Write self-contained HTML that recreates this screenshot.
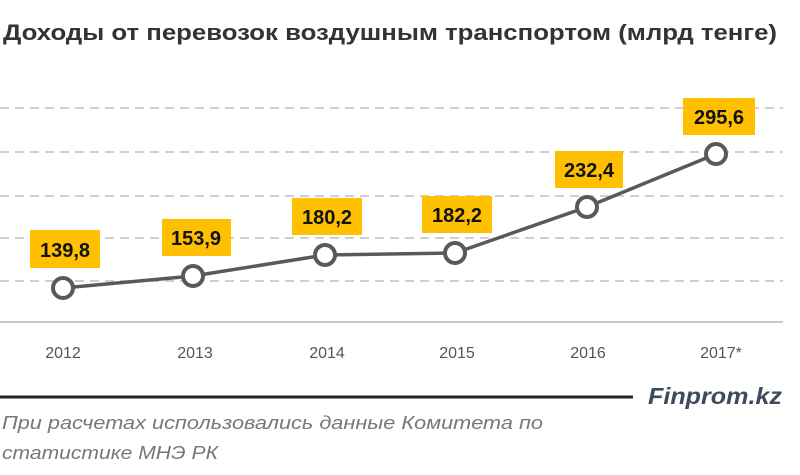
<!DOCTYPE html>
<html><head><meta charset="utf-8"><style>
body{margin:0;background:#fff;width:800px;height:470px;overflow:hidden;font-family:"Liberation Sans",sans-serif}
</style></head><body>
<svg width="800" height="470" xmlns="http://www.w3.org/2000/svg">
<text x="3" y="40" font-size="22" font-weight="bold" fill="#333" textLength="774" lengthAdjust="spacingAndGlyphs">Доходы от перевозок воздушным транспортом (млрд тенге)</text>
<g stroke="#bfbfbf" stroke-width="1.5" stroke-dasharray="9,6">
<line x1="0" y1="108" x2="783" y2="108"/><line x1="0" y1="152" x2="783" y2="152"/><line x1="0" y1="196" x2="783" y2="196"/><line x1="0" y1="238" x2="783" y2="238"/><line x1="0" y1="281" x2="783" y2="281"/>
</g>
<line x1="0" y1="322" x2="783" y2="322" stroke="#c8c8c8" stroke-width="2"/>
<polyline points="63,288 193,276 325,255 455,253 587,207 716,154" fill="none" stroke="#595959" stroke-width="3.5"/>
<g fill="#fff" stroke="#595959" stroke-width="4">
<circle cx="63" cy="288" r="10"/><circle cx="193" cy="276" r="10"/><circle cx="325" cy="255" r="10"/><circle cx="455" cy="253" r="10"/><circle cx="587" cy="207" r="10"/><circle cx="716" cy="154" r="10"/>
</g>
<g fill="#ffc000">
<rect x="30" y="230" width="70" height="38"/><rect x="162" y="219" width="69" height="37"/><rect x="292" y="198" width="70" height="37"/><rect x="422" y="196" width="70" height="37"/><rect x="555" y="151" width="68" height="37"/><rect x="683" y="98" width="72" height="37"/>
</g>
<g font-size="20" font-weight="bold" fill="#111" text-anchor="middle">
<text x="65" y="257">139,8</text><text x="196" y="245">153,9</text><text x="327" y="224">180,2</text><text x="457" y="222">182,2</text><text x="589" y="177">232,4</text><text x="719" y="124">295,6</text>
</g>
<g font-size="16" fill="#555" text-anchor="middle">
<text x="63" y="358">2012</text><text x="195" y="358">2013</text><text x="327" y="358">2014</text><text x="457" y="358">2015</text><text x="588" y="358">2016</text><text x="721" y="358">2017*</text>
</g>
<line x1="0" y1="397" x2="633" y2="397" stroke="#222" stroke-width="3"/>
<text x="648" y="404" font-size="23" font-weight="bold" font-style="italic" fill="#3f4a5a" textLength="134" lengthAdjust="spacingAndGlyphs">Finprom.kz</text>
<text x="2" y="429" font-size="18" font-style="italic" fill="#777" textLength="541" lengthAdjust="spacingAndGlyphs">При расчетах использовались данные Комитета по</text>
<text x="2" y="459" font-size="18" font-style="italic" fill="#777" textLength="216" lengthAdjust="spacingAndGlyphs">статистике МНЭ РК</text>
</svg>
</body></html>
